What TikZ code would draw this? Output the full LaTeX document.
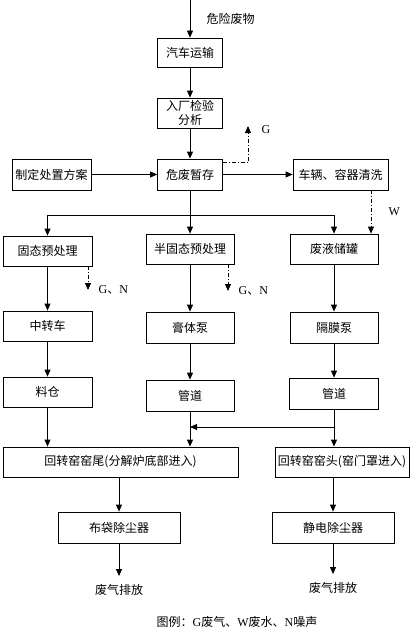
\documentclass[tikz,border=0pt]{standalone}
\usepackage{fontspec}
\setmainfont{Noto Sans CJK SC}
\newfontfamily\latin{Liberation Serif}
\usepackage{tikz}
\usetikzlibrary{arrows.meta}
\usetikzlibrary{positioning}
\usetikzlibrary{calc}

\begin{document}
\begin{tikzpicture}[>={Triangle[length=7pt,width=6pt]}, x=1pt, y=-1pt, line width=.8pt,
		font=\fontsize{12}{14}\selectfont,
		box/.style={draw, minimum height=30pt, align=center, inner sep=1pt},
		emis/.style={->, dash pattern=on 4pt off 2pt on 1pt off 2pt},
		exit/.style={inner sep=8pt}]
		\useasboundingbox (0,0) rectangle (417,634);
		%coordinates
		\coordinate (in)   at (190,0);
		\coordinate (bus)  at (190,215);
		\coordinate (gtip) at (248,126);
		\coordinate (wx)   at (371,200);
		\coordinate (gnA)  at (88,290);
		\coordinate (gnB)  at (228,291);
		\coordinate (join) at (300,427);
		
		%nodes
		\node[box, minimum width=65pt, minimum height=29pt] (car) at (190,52.5) {汽车运输};
		\node[box, minimum width=65pt] (check) at (190,113) {入厂检验\\分析};
		\node[box, minimum width=65pt, minimum height=31pt] (store) at (190,174.5) {危废暂存};
		\node[box, minimum width=79pt, minimum height=31pt] (plan) at (51.5,174.5) {制定处置方案};
		\node[box, minimum width=95pt, minimum height=31pt] (wash) at (340.5,174.5) {车辆、容器清洗};
		
		\node[box, minimum width=89pt] (solid)  at (47.5,251) {固态预处理};
		\node[box, minimum width=88pt] (semi)   at (190,249) {半固态预处理};
		\node[box, minimum width=88pt] (liquid) at (334,249) {废液储罐};
		
		\node[box, minimum width=89pt] (truck) at (47.5,326) {中转车};
		\node[box, minimum width=88pt, minimum height=31pt] (paste) at (190,327.5) {膏体泵};
		\node[box, minimum width=88pt, minimum height=31pt] (diaph) at (334,327.5) {隔膜泵};
		
		\node[box, minimum width=89pt] (bin) at (47.5,392) {料仓};
		\node[box, minimum width=88pt, minimum height=31pt] (pipeA) at (190,395.5) {管道};
		\node[box, minimum width=89pt, minimum height=31pt] (pipeB) at (334,393.5) {管道};
		
		\node[box, minimum width=235pt] (tail) at (120.5,462) {回转窑窑尾({分解炉底部进入})};
		\node[box, minimum width=134pt] (head) at (342,462) {回转窑窑头(窑门罩进入)};
		
		\node[box, minimum width=122pt, minimum height=31pt] (bag) at (119,527.5) {布袋除尘器};
		\node[box, minimum width=122pt, minimum height=31pt] (esp) at (333,527.5) {静电除尘器};
		
		\node[exit] (outA) at (119,590) {废气排放};
		\node[exit] (outB) at (333,588) {废气排放};
		
		\node (legend) at (237,622) {图例：{\latin G}废气、{\latin W}废水、{\latin N}噪声};
		
		%arrows
		\draw[->] (in) -- node[right=13pt]{危险废物} (car);
		\draw[->] (car) -- (check);
		\draw[->] (check) -- (store);
		\draw[->] (plan) -- (store);
		\draw[->] (store) -- (wash);
		\draw[emis] ($(store.north east)+(0,4)$) -| (gtip) node[right=10pt, yshift=-4pt]{\latin G};
		
		\draw (store) -- (bus);
		\draw[->] (bus) -| (solid.north);
		\draw[->] (bus) -- (semi);
		\draw[->] (bus) -| (liquid.north);
		\draw[emis] (wash.south -| wx) -- node[right=14pt]{\latin W} (liquid.north -| wx);
		
		\draw[emis] (solid.south -| gnA) -- (gnA) node[right=7pt]{{\latin G}、{\latin N}};
		\draw[emis] (semi.south -| gnB) -- (gnB) node[right=7pt]{{\latin G}、{\latin N}};
		
		\draw[->] (solid) -- (truck);
		\draw[->] (truck) -- (bin);
		\draw[->] (semi) -- (paste);
		\draw[->] (paste) -- (pipeA);
		\draw[->] (liquid) -- (diaph);
		\draw[->] (diaph) -- (pipeB);
		
		\draw[->] (bin) -- (bin |- tail.north);
		\draw[->] (pipeA) -- (pipeA |- tail.north);
		\draw[->] (pipeB) -- (pipeB |- head.north);
		\draw[->] (pipeB |- join) -- (pipeA |- join);
		
		\draw[->] (bag |- tail.south) -- (bag);
		\draw[->] (esp |- head.south) -- (esp);
		\draw[->] (bag) -- (outA);
		\draw[->] (esp) -- (outB);
\end{tikzpicture}
\end{document}
